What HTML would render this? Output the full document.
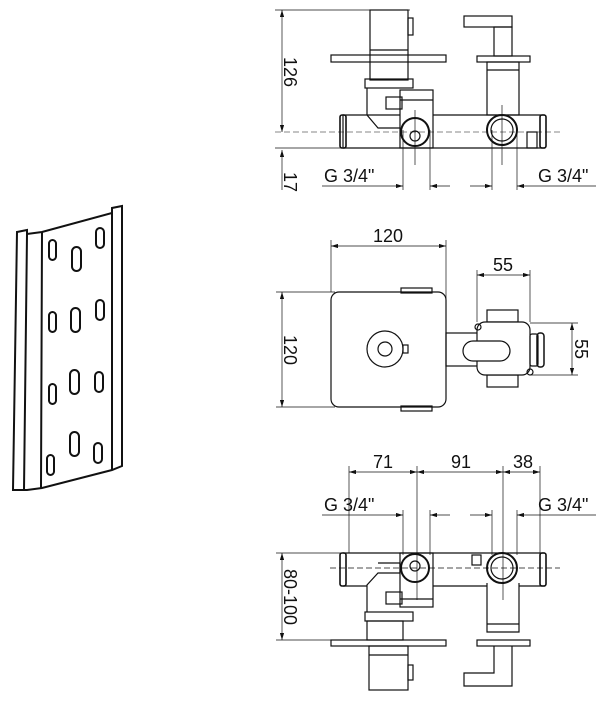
<!DOCTYPE html>
<html><head><style>body{margin:0;background:#fff}svg{display:block}text{font-family:"Liberation Sans",sans-serif;font-size:18px;fill:#111;stroke:none}</style></head><body>
<svg width="606" height="701" viewBox="0 0 606 701" fill="none" stroke="#111" stroke-width="1.2">
<defs><marker id="a" viewBox="0 0 10 6" refX="10" refY="3" markerWidth="10" markerHeight="6" orient="auto-start-reverse"><path d="M0,0L10,3L0,6z" fill="#111" stroke="none"/></marker></defs>
<!-- plate -->
<g stroke-width="2">
<path d="M17,232 L27,230 L27,234 L42,232 L112,213 L112,208 L122,206 L122,466 L112,470 L42,488 L27,490 L13,490 Z"/>
<path d="M27,234 L24,490 M42,232 L41,488 M112,213 L112,470"/>
<rect x="49" y="240" width="7" height="20" rx="3.5"/><rect x="72" y="247" width="9" height="24" rx="4.5"/><rect x="96" y="228" width="8" height="20" rx="4"/>
<rect x="49" y="312" width="7" height="20" rx="3.5"/><rect x="71" y="308" width="9" height="24" rx="4.5"/><rect x="96" y="300" width="8" height="20" rx="4"/>
<rect x="49" y="384" width="7" height="20" rx="3.5"/><rect x="70" y="370" width="9" height="24" rx="4.5"/><rect x="95" y="372" width="8" height="20" rx="4"/>
<rect x="47" y="455" width="7" height="20" rx="3.5"/><rect x="70" y="432" width="9" height="24" rx="4.5"/><rect x="94" y="443" width="8" height="20" rx="4"/>
</g>
<!-- TOP VIEW -->
<g>
<line x1="275" y1="10" x2="410" y2="10" stroke-width="0.7"/>
<line x1="275" y1="148" x2="345" y2="148" stroke-width="0.7"/>
<line x1="282" y1="10" x2="282" y2="132" marker-start="url(#a)" marker-end="url(#a)" stroke-width="0.7"/>
<line x1="282" y1="150" x2="282" y2="190" marker-start="url(#a)" stroke-width="0.7"/>
<line x1="275" y1="132" x2="560" y2="132" stroke-dasharray="6,3" stroke-width="0.6"/>
<text transform="translate(284,72) rotate(90)" text-anchor="middle">126</text>
<text transform="translate(284,182) rotate(90)" text-anchor="middle">17</text>
<rect x="370" y="10" width="38" height="70"/><line x1="370" y1="50" x2="408" y2="50"/>
<rect x="408" y="18" width="5" height="17"/>
<rect x="331" y="55" width="115" height="7"/>
<rect x="365" y="79" width="48" height="9"/>
<path d="M367,88 L367,115 L378,128 L400,128 M343,115 L400,115 M433,115 L545,115 M343,148 L545,148 M343,115 L343,148"/>
<rect x="386" y="97" width="16" height="12"/>
<rect x="400" y="90" width="33" height="58"/><line x1="400" y1="100" x2="433" y2="100"/>
<circle cx="415" cy="132" r="14" stroke-width="2"/><circle cx="415" cy="136" r="5"/>
<rect x="464" y="16" width="48" height="11"/><rect x="494" y="27" width="18" height="29"/>
<rect x="477" y="56" width="53" height="6"/>
<rect x="487" y="62" width="32" height="53"/><line x1="487" y1="70" x2="519" y2="70"/>
<circle cx="502" cy="130" r="15" stroke-width="2"/><circle cx="502" cy="130" r="11"/>
<rect x="540" y="115" width="6" height="33" rx="2" stroke-width="1.6"/><rect x="340" y="115" width="6" height="33" rx="2" stroke-width="1.6"/>
<rect x="527" y="132" width="10" height="16"/>
<g stroke-width="0.7"><line x1="403" y1="130" x2="403" y2="190"/><line x1="430" y1="130" x2="430" y2="190"/><line x1="492" y1="130" x2="492" y2="190"/><line x1="517" y1="130" x2="517" y2="190"/><line x1="415" y1="110" x2="415" y2="165"/><line x1="502" y1="105" x2="502" y2="165"/>
<line x1="322" y1="186" x2="403" y2="186" marker-end="url(#a)"/><line x1="430" y1="186" x2="450" y2="186" marker-start="url(#a)"/>
<line x1="470" y1="186" x2="492" y2="186" marker-end="url(#a)"/><line x1="517" y1="186" x2="596" y2="186" marker-start="url(#a)"/></g>
<text x="324" y="182">G 3/4"</text><text x="538" y="182">G 3/4"</text>
</g>
<!-- MIDDLE VIEW -->
<g>
<g stroke-width="0.7">
<line x1="331" y1="240" x2="331" y2="292"/><line x1="446" y1="240" x2="446" y2="300"/>
<line x1="331" y1="246" x2="446" y2="246" marker-start="url(#a)" marker-end="url(#a)"/>
<line x1="276" y1="292" x2="335" y2="292"/><line x1="276" y1="407" x2="335" y2="407"/>
<line x1="282" y1="292" x2="282" y2="407" marker-start="url(#a)" marker-end="url(#a)"/>
<line x1="477" y1="270" x2="477" y2="322"/><line x1="530" y1="270" x2="530" y2="322"/>
<line x1="477" y1="275" x2="530" y2="275" marker-start="url(#a)" marker-end="url(#a)"/>
<line x1="530" y1="323" x2="578" y2="323"/><line x1="530" y1="375" x2="578" y2="375"/>
<line x1="572" y1="323" x2="572" y2="375" marker-start="url(#a)" marker-end="url(#a)"/>
</g>
<text x="388" y="242" text-anchor="middle">120</text>
<text x="503" y="271" text-anchor="middle">55</text>
<text transform="translate(284,350) rotate(90)" text-anchor="middle">120</text>
<text transform="translate(575,349) rotate(90)" text-anchor="middle">55</text>
<rect x="401" y="288" width="31" height="5"/><rect x="401" y="406" width="31" height="5"/>
<rect x="331" y="292" width="115" height="115" rx="8"/>
<circle cx="385" cy="349" r="18"/><circle cx="385" cy="349" r="7"/><rect x="403" y="345" width="5" height="8"/>
<rect x="446" y="333" width="34" height="33"/>
<rect x="487" y="310" width="31" height="12"/><rect x="487" y="375" width="31" height="12"/>
<rect x="477" y="322" width="53" height="53" rx="8" fill="#fff"/>
<rect x="463" y="341" width="47" height="20" rx="10" fill="#fff"/>
<rect x="530" y="334" width="8" height="32" rx="2"/><rect x="537" y="333" width="7" height="34" rx="3" stroke-width="1.5"/>
<circle cx="478" cy="327" r="3"/><circle cx="530" cy="372" r="3"/>
</g>
<!-- BOTTOM VIEW -->
<g>
<g stroke-width="0.7">
<line x1="349" y1="466" x2="349" y2="553"/><line x1="540" y1="466" x2="540" y2="553"/>
<line x1="417" y1="466" x2="417" y2="600"/><line x1="503" y1="466" x2="503" y2="600"/>
<line x1="349" y1="472" x2="417" y2="472" marker-start="url(#a)" marker-end="url(#a)"/>
<line x1="417" y1="472" x2="503" y2="472" marker-start="url(#a)" marker-end="url(#a)"/>
<line x1="503" y1="472" x2="540" y2="472" marker-start="url(#a)" marker-end="url(#a)"/>
<line x1="403" y1="510" x2="403" y2="555"/><line x1="430" y1="510" x2="430" y2="555"/><line x1="492" y1="510" x2="492" y2="555"/><line x1="517" y1="510" x2="517" y2="555"/>
<line x1="322" y1="515" x2="403" y2="515" marker-end="url(#a)"/><line x1="430" y1="515" x2="450" y2="515" marker-start="url(#a)"/>
<line x1="470" y1="515" x2="492" y2="515" marker-end="url(#a)"/><line x1="517" y1="515" x2="596" y2="515" marker-start="url(#a)"/>
<line x1="276" y1="553" x2="345" y2="553"/><line x1="276" y1="640" x2="335" y2="640"/>
<line x1="282" y1="553" x2="282" y2="640" marker-start="url(#a)" marker-end="url(#a)"/>
<line x1="330" y1="568" x2="560" y2="568" stroke-dasharray="6,3"/>
</g>
<text x="383" y="468" text-anchor="middle">71</text><text x="461" y="468" text-anchor="middle">91</text><text x="523" y="468" text-anchor="middle">38</text>
<text x="324" y="511">G 3/4"</text><text x="538" y="511">G 3/4"</text>
<text transform="translate(284,597) rotate(90)" text-anchor="middle">80-100</text>
<path d="M343,553 L545,553 M343,586 L367,586 M433,586 L487,586 M519,586 L545,586"/>
<rect x="340" y="553" width="6" height="33" rx="2" stroke-width="1.6"/><rect x="540" y="553" width="6" height="33" rx="2" stroke-width="1.6"/>
<path d="M378,563 L400,563 L400,573 L378,573 L367,585 L367,612"/>
<rect x="386" y="592" width="16" height="12"/>
<rect x="400" y="553" width="33" height="54"/><line x1="400" y1="599" x2="433" y2="599"/>
<circle cx="415" cy="568" r="14" stroke-width="2"/><circle cx="415" cy="566" r="5"/>
<rect x="365" y="612" width="48" height="9"/><rect x="367" y="621" width="36" height="19"/>
<rect x="331" y="640" width="115" height="6"/>
<rect x="369" y="646" width="39" height="44"/><line x1="369" y1="655" x2="408" y2="655"/><rect x="408" y="665" width="5" height="15"/>
<rect x="472" y="555" width="9" height="10"/>
<circle cx="502" cy="568" r="15" stroke-width="2"/><circle cx="502" cy="568" r="11"/>
<path d="M487,583 L487,632 L519,632 L519,583"/><line x1="487" y1="624" x2="519" y2="624"/>
<rect x="477" y="640" width="53" height="6"/>
<path d="M494,646 L494,673 L464,673 L464,686 L512,686 L512,646"/>
</g>
</svg>
</body></html>
